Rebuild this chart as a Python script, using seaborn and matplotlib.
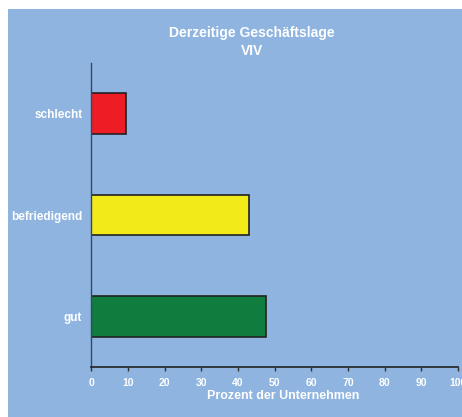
import matplotlib
matplotlib.use("Agg")
import matplotlib.pyplot as plt
import seaborn as sns
import pandas as pd
from matplotlib.patches import Rectangle

# data
categories = ["schlecht", "befriedigend", "gut"]
values = [9.5, 42.9, 47.6]
bar_colors = ["#EE1C24", "#F2EA19", "#0E7D3E"]
x_ticks = list(range(0, 101, 10))

df = pd.DataFrame({"kategorie": categories, "prozent": values})

sns.set_style("white")
plt.rcParams["font.family"] = ["Liberation Sans Narrow", "Liberation Sans", "DejaVu Sans"]

bg = "#8EB4DF"
fig = plt.figure(figsize=(4.62, 4.17), dpi=100, facecolor="white")
fig.patches.append(Rectangle((8 / 462, 0), 1, 408 / 417, transform=fig.transFigure,
                             facecolor=bg, edgecolor="none", zorder=-5))

ax = fig.add_axes([91.3 / 462, 1 - 367.3 / 417, (458 - 91.3) / 462, (367.3 - 63) / 417])
ax.set_zorder(2)
ax.patch.set_alpha(0)

sns.barplot(data=df, x="prozent", y="kategorie", hue="kategorie", palette=bar_colors,
            order=categories, width=0.4, edgecolor="#222222", linewidth=1.2,
            saturation=1, legend=False, ax=ax)

ax.set_xlim(0, 100)
ax.set_ylim(2.5, -0.5)
ax.set_xticks(x_ticks)
ax.set_xticklabels([str(t) for t in x_ticks], color="white", fontsize=7.5, fontweight="bold")
ax.set_yticks(range(len(categories)))
ax.set_yticklabels(categories, color="white", fontsize=8.5, fontweight="bold")
ax.tick_params(axis="x", length=3, width=1, color="#333333", pad=5, bottom=True)
ax.tick_params(axis="y", length=0, pad=6.5)

for s in ["top", "right"]:
    ax.spines[s].set_visible(False)
ax.spines["left"].set_color("#3a4660")
ax.spines["bottom"].set_color("#222222")
ax.spines["left"].set_linewidth(1)
ax.spines["bottom"].set_linewidth(1.2)

ax.set_ylabel("")
ax.set_xlabel("Prozent der Unternehmen", color="white", fontsize=9, fontweight="bold")
ax.xaxis.set_label_coords(0.524, -0.075)

fig.text(252 / 462, 1 - 42 / 417, "Derzeitige Geschäftslage\nVIV", ha="center", va="center",
         color="white", fontsize=10, fontweight="bold", linespacing=1.3)

fig.savefig("out.png", dpi=100, facecolor="white")
